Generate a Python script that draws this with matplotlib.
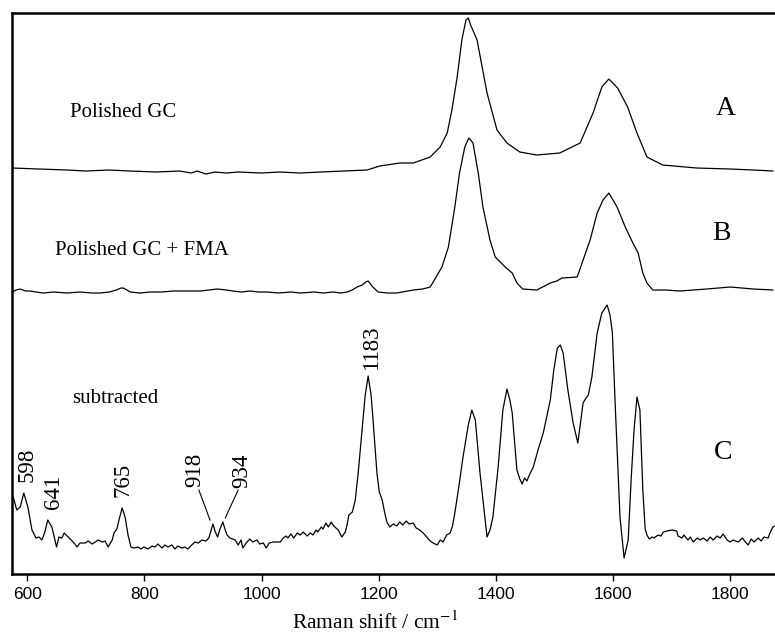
import matplotlib
matplotlib.use('Agg')
import matplotlib.pyplot as plt

plt.rcParams['mathtext.fontset'] = 'stix'

# spectrum A: polished GC (wavenumber / cm-1, intensity a.u.)
wn_a = [574, 620, 668, 700, 740, 775, 820, 860, 880, 890, 905, 920, 940, 960, 1000,
        1030, 1066, 1100, 1140, 1180, 1202, 1236, 1259, 1288, 1305, 1317, 1325,
        1334, 1342, 1349, 1353, 1357, 1368, 1385, 1402, 1419, 1441, 1470, 1509, 1544,
        1566, 1581, 1593, 1608, 1625, 1641, 1658, 1685, 1743, 1800, 1840, 1873]
int_a = [406, 405, 404, 403, 404, 403, 402, 403, 401, 403, 400, 402, 401, 402, 401,
         402, 401, 402, 403, 404, 408, 411, 411, 417, 427, 441, 464,
         497, 534, 554, 556, 549, 534, 481, 444, 431, 422, 419, 421, 431,
         461, 487, 495, 486, 467, 441, 417, 409, 406, 405, 404, 403]

# spectrum B: polished GC + FMA
wn_b = [574, 581, 588, 597, 605, 615, 627, 645, 668, 690, 710, 724, 740, 752, 760, 764,
        770, 776, 792, 810, 830, 849, 870, 895, 910, 924, 940, 951, 966, 980, 995, 1009,
        1030, 1050, 1066, 1090, 1105, 1122, 1135, 1146, 1155, 1163, 1172, 1178, 1182,
        1186, 1190, 1199, 1215, 1231, 1259, 1275, 1288, 1308, 1319,
        1330, 1338, 1347, 1354, 1361, 1370, 1378, 1390, 1399, 1416, 1428, 1436, 1446,
        1470, 1493, 1504, 1513, 1539, 1549, 1561, 1573, 1583, 1593, 1607, 1621, 1634,
        1643, 1651, 1658, 1668, 1690, 1714, 1760, 1800, 1840, 1873]
int_b = [282, 284, 285, 283, 283, 282, 281, 282, 281, 282, 281, 281, 282, 284, 286, 286,
         284, 282, 281, 282, 282, 283, 283, 283, 284, 285, 284, 283, 282, 283, 282, 282,
         281, 282, 281, 282, 281, 282, 281, 282, 284, 287, 289, 292, 293,
         290, 287, 282, 281, 281, 284, 285, 287, 307, 327,
         367, 401, 427, 436, 431, 401, 367, 334, 317, 307, 301, 291, 285,
         284, 291, 293, 296, 297, 314, 334, 361, 374, 381, 367, 347, 331,
         321, 301, 291, 284, 284, 283, 285, 287, 285, 284]

# spectrum C: subtracted
wn_c = [576, 582, 588, 594, 601, 608, 615, 620, 625, 630, 635, 642, 646, 650, 654, 659,
        663, 670, 675, 680, 685, 690, 699, 704, 711, 716, 721, 728, 733, 738, 745, 748,
        753, 757, 762, 767, 772, 777, 782, 789, 794, 799, 806, 813, 818, 823, 830, 835,
        840, 847, 852, 857, 864, 869, 874, 881, 886, 892, 898, 905, 910, 917, 921, 925,
        929, 934, 938, 941, 946, 955, 960, 965, 968, 975, 980, 985, 992, 997, 1003, 1008,
        1013, 1020, 1032, 1037, 1042, 1045, 1050, 1055, 1061, 1066, 1071, 1078, 1083,
        1088, 1093, 1096, 1102, 1105, 1110, 1114, 1119, 1122, 1127, 1131, 1137, 1143,
        1146, 1149, 1155, 1160, 1165, 1172, 1177, 1182, 1187, 1190, 1197, 1201, 1206,
        1210, 1214, 1219, 1225, 1231, 1236, 1241, 1247, 1252, 1259, 1264, 1270, 1276,
        1282, 1288, 1293, 1300, 1305, 1310, 1316, 1322, 1326, 1330, 1336, 1344, 1353,
        1359, 1365, 1368, 1373, 1380, 1385, 1390, 1395, 1404, 1412, 1419, 1424, 1428,
        1436, 1441, 1445, 1449, 1453, 1458, 1464, 1472, 1481, 1493, 1499, 1505, 1510,
        1515, 1523, 1532, 1540, 1549, 1553, 1558, 1564, 1573, 1581, 1590, 1595, 1599,
        1604, 1612, 1619, 1626, 1631, 1636, 1641, 1646, 1651, 1655, 1658, 1662, 1667,
        1670, 1677, 1682, 1686, 1692, 1701, 1709, 1711, 1718, 1721, 1728, 1732, 1737,
        1744, 1749, 1754, 1761, 1766, 1771, 1778, 1783, 1788, 1795, 1800, 1805, 1814,
        1821, 1826, 1831, 1836, 1841, 1848, 1853, 1858, 1865, 1868, 1873, 1877]
int_c = [77, 64, 67, 81, 67, 44, 36, 37, 34, 42, 54, 47, 37, 27, 37, 36,
         41, 37, 34, 31, 27, 31, 31, 33, 30, 32, 34, 32, 33, 27, 34, 41,
         45, 55, 66, 57, 39, 27, 26, 27, 25, 27, 25, 28, 27, 30, 26, 29,
         27, 29, 25, 28, 26, 27, 25, 29, 32, 31, 34, 33, 36, 50, 42, 37,
         45, 52, 44, 39, 36, 34, 29, 34, 26, 32, 35, 32, 34, 30, 31, 26,
         31, 32, 32, 36, 38, 36, 40, 36, 41, 39, 42, 38, 41,
         39, 44, 42, 47, 45, 51, 47, 52, 49, 46, 44, 37, 42,
         49, 59, 62, 74, 101, 147, 179, 198, 179, 157, 101, 82, 74,
         62, 52, 47, 50, 48, 52, 49, 53, 50, 51, 46, 44, 41,
         37, 33, 31, 29, 34, 32, 39, 41, 48, 61, 84, 117, 149,
         164, 154, 134, 101, 64, 37, 44, 57, 107, 164, 185, 174, 161,
         104, 95, 90, 96, 93, 100, 107, 124, 141, 174, 204, 226, 229,
         221, 184, 151, 131, 171, 175, 179, 197, 241, 261, 269, 259, 241,
         167, 57, 16, 34, 94, 144, 177, 164, 84, 45, 39, 35, 37,
         36, 39, 38, 42, 43, 44, 43, 38, 36, 39, 34, 37, 32,
         36, 34, 36, 33, 37, 34, 38, 36, 40, 34, 32, 34, 32,
         36, 32, 29, 35, 32, 36, 33, 37, 36, 41, 47, 48]

# peak labels on trace C: text, x, y
peak_text = ['598', '641', '765', '918', '934', '1183']
peak_x = [599, 644, 763, 886, 966, 1187]
peak_y = [109, 82, 94, 104, 103, 226]

fig = plt.figure(figsize=(7.75, 6.38), dpi=100)
ax = fig.add_axes([0.0151, 0.1003, 0.985, 0.8793])

for wn, it in [(wn_a, int_a), (wn_b, int_b), (wn_c, int_c)]:
    ax.plot(wn, it, color='black', lw=0.9)

ax.set_xlim(573.4, 1876.8)
ax.set_ylim(0, 561)

serif = 'Liberation Serif'
ax.text(673, 462, 'Polished GC', family=serif, fontsize=15, va='center')
ax.text(647, 324, 'Polished GC + FMA', family=serif, fontsize=15, va='center')
ax.text(676, 176, 'subtracted', family=serif, fontsize=15, va='center')
ax.text(1793, 466, 'A', family=serif, fontsize=20, ha='center', va='center')
ax.text(1786, 341, 'B', family=serif, fontsize=20, ha='center', va='center')
ax.text(1788, 122, 'C', family=serif, fontsize=20, ha='center', va='center')

for t, x, y in zip(peak_text, peak_x, peak_y):
    ax.text(x, y, t, family=serif, fontsize=16.5, rotation=90, ha='center', va='center')

# leader lines for the 918 / 934 doublet
ax.plot([893, 912], [84, 54], color='black', lw=0.8)
ax.plot([960, 938], [84, 56], color='black', lw=0.8)

ax.spines['right'].set_visible(False)
for s in ['left', 'top', 'bottom']:
    ax.spines[s].set_linewidth(1.8)
ax.set_yticks([])
ax.set_xticks([600, 800, 1000, 1200, 1400, 1600, 1800])
ax.tick_params(axis='x', direction='out', length=5, width=1, pad=4, labelsize=12.5)
for lab in ax.get_xticklabels():
    lab.set_family('Liberation Sans')

ax.set_xlabel(r'Raman shift / cm$^{-1}$', family=serif, fontsize=15.5)
ax.xaxis.set_label_coords(0.476, -0.066)

fig.savefig('out.png', dpi=100)
